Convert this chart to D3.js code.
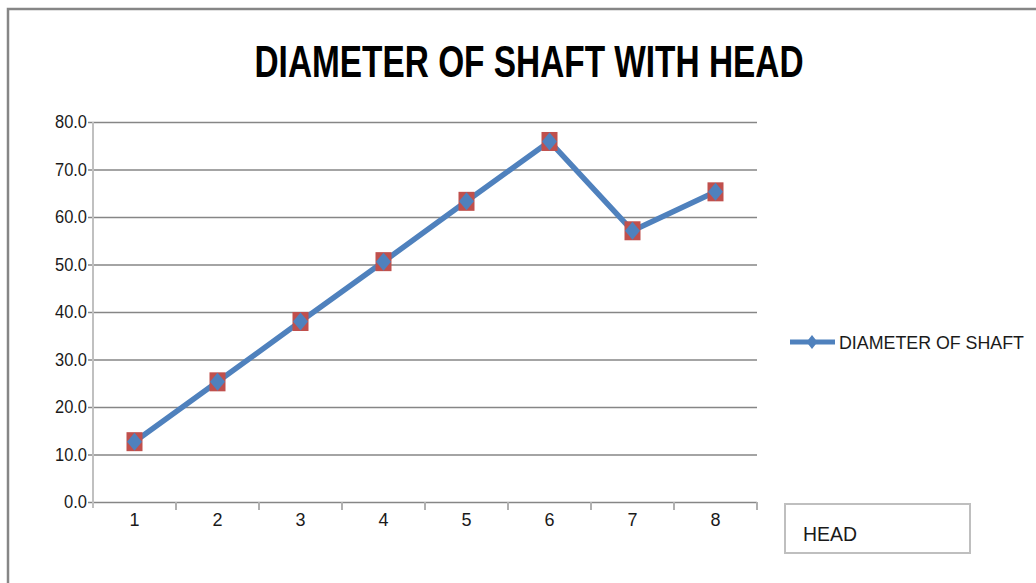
<!DOCTYPE html>
<html>
<head>
<meta charset="utf-8">
<script src="https://cdn.jsdelivr.net/npm/d3@7"></script>
<style>
  body { margin: 0; background: #fff; }
  svg text { font-family: "Liberation Sans Narrow", "Liberation Sans", Arial, sans-serif; }
</style>
</head>
<body>
<div id="chart"></div>
<script>
var categories = ['1', '2', '3', '4', '5', '6', '7', '8'];
var diameter = [12.7, 25.3, 38.0, 50.6, 63.3, 75.9, 57.1, 65.3];
var yTicks = [0, 10, 20, 30, 40, 50, 60, 70, 80];
var title = 'DIAMETER OF SHAFT WITH HEAD';
var seriesName = 'DIAMETER OF SHAFT';
var boxLabel = 'HEAD';

var W = 1036, H = 583;
var plotLeft = 93, plotRight = 757, plotTop = 122, plotBottom = 502;

var svg = d3.select('#chart').append('svg')
    .attr('width', W)
    .attr('height', H);

// outer chart border (runs off the right / bottom edges)
svg.append('rect')
    .attr('x', 8).attr('y', 9)
    .attr('width', 1040).attr('height', 590)
    .attr('fill', '#fff')
    .attr('stroke', '#868686')
    .attr('stroke-width', 2.5);

svg.append('text')
    .attr('x', 529).attr('y', 77)
    .attr('text-anchor', 'middle')
    .attr('font-size', 44)
    .attr('font-weight', 'bold')
    .attr('textLength', 549)
    .attr('lengthAdjust', 'spacingAndGlyphs')
    .text(title);

var x = d3.scaleBand().domain(categories).range([plotLeft, plotRight]);
var y = d3.scaleLinear().domain([0, 80]).range([plotBottom, plotTop]);

// gridlines + y labels
var yAxis = svg.append('g')
    .attr('transform', 'translate(' + plotLeft + ',0)')
    .call(d3.axisLeft(y).tickValues(yTicks).tickSize(-(plotRight - plotLeft)).tickPadding(4)
        .tickFormat(d3.format('.1f')));
yAxis.select('.domain').remove();
yAxis.selectAll('.tick line')
    .attr('x1', -5)
    .attr('stroke', '#868686')
    .attr('stroke-width', 1.6);
yAxis.selectAll('.tick text')
    .attr('x', -6)
    .attr('font-size', 18)
    .attr('fill', '#1a1a1a')
    .attr('textLength', function(d) { return (d3.format('.1f')(d).length - 1) * 9 + 5; })
    .attr('lengthAdjust', 'spacingAndGlyphs');

svg.append('line')
    .attr('x1', plotLeft).attr('x2', plotLeft)
    .attr('y1', plotTop).attr('y2', plotBottom + 6)
    .attr('stroke', '#c0c0c0').attr('stroke-width', 2);

// x axis ticks at category boundaries
var bounds = categories.map(function(d) { return x(d); }).concat([plotRight]);
svg.selectAll('.xtick')
    .data(bounds.slice(1))
    .enter()
    .append('line')
    .attr('x1', function(d) { return d; })
    .attr('x2', function(d) { return d; })
    .attr('y1', plotBottom)
    .attr('y2', plotBottom + 8)
    .attr('stroke', '#b0b0b0')
    .attr('stroke-width', 2);

svg.selectAll('.xlabel')
    .data(categories)
    .enter()
    .append('text')
    .attr('x', function(d) { return x(d) + x.bandwidth() / 2; })
    .attr('y', 526)
    .attr('text-anchor', 'middle')
    .attr('font-size', 18)
    .attr('fill', '#1a1a1a')
    .text(function(d) { return d; });

var cx = function(d, i) { return x(categories[i]) + x.bandwidth() / 2; };
var cy = function(d) { return y(d); };

svg.append('path')
    .datum(diameter)
    .attr('d', d3.line().x(cx).y(cy))
    .attr('fill', 'none')
    .attr('stroke', '#4f81bd')
    .attr('stroke-width', 5.5)
    .attr('stroke-linejoin', 'round');

svg.selectAll('.sq')
    .data(diameter)
    .enter()
    .append('rect')
    .attr('x', function(d, i) { return cx(d, i) - 8; })
    .attr('y', function(d) { return cy(d) - 9.5; })
    .attr('width', 16)
    .attr('height', 19)
    .attr('fill', '#c0504d');

var diamond = function(px, py, w, h) {
  return 'M' + px + ',' + (py - h / 2) + 'L' + (px + w / 2) + ',' + py +
    'L' + px + ',' + (py + h / 2) + 'L' + (px - w / 2) + ',' + py + 'Z';
};

svg.selectAll('.dm')
    .data(diameter)
    .enter()
    .append('path')
    .attr('d', function(d, i) { return diamond(cx(d, i), cy(d), 15, 18); })
    .attr('fill', '#4f81bd');

// legend
svg.append('line')
    .attr('x1', 790).attr('x2', 835)
    .attr('y1', 342).attr('y2', 342)
    .attr('stroke', '#4f81bd').attr('stroke-width', 5);
svg.append('path')
    .attr('d', diamond(812, 342, 11, 14))
    .attr('fill', '#4f81bd');
svg.append('text')
    .attr('x', 839).attr('y', 349)
    .attr('font-size', 18)
    .attr('fill', '#1a1a1a')
    .attr('textLength', 185)
    .attr('lengthAdjust', 'spacingAndGlyphs')
    .text(seriesName);

// HEAD box
svg.append('rect')
    .attr('x', 785).attr('y', 504)
    .attr('width', 185).attr('height', 49)
    .attr('fill', '#fff')
    .attr('stroke', '#bfbfbf')
    .attr('stroke-width', 2);
svg.append('text')
    .attr('x', 803).attr('y', 541)
    .attr('font-size', 21)
    .attr('fill', '#1a1a1a')
    .attr('textLength', 54)
    .attr('lengthAdjust', 'spacingAndGlyphs')
    .text(boxLabel);
</script>
</body>
</html>
